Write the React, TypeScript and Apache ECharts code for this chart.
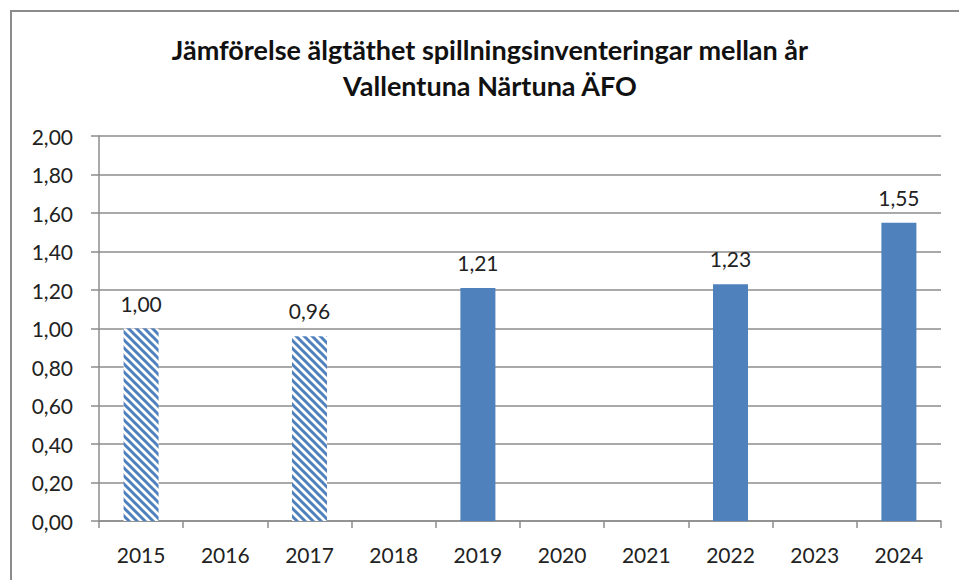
import React, { useEffect, useRef } from "react";
import * as echarts from "echarts";

const years = ["2015", "2016", "2017", "2018", "2019", "2020", "2021", "2022", "2023", "2024"];
const values: (number | null)[] = [1.0, null, 0.96, null, 1.21, null, null, 1.23, null, 1.55];
const hatched = ["2015", "2017"];
const yTicks = { min: 0, max: 2, interval: 0.2 };
const titleLines = ["Jämförelse älgtäthet spillningsinventeringar mellan år", "Vallentuna Närtuna ÄFO"];

const BLUE = "#4F81BD";
const FONT = "Lato, 'Open Sans', sans-serif";

function makeHatch() {
  const s = 8;
  const c = document.createElement("canvas");
  c.width = s;
  c.height = s;
  const ctx = c.getContext("2d")!;
  ctx.fillStyle = "#ffffff";
  ctx.fillRect(0, 0, s, s);
  ctx.strokeStyle = BLUE;
  ctx.lineWidth = 3;
  for (const off of [-s, 0, s]) {
    ctx.beginPath();
    ctx.moveTo(-1, off - 1);
    ctx.lineTo(s + 1, off + s + 1);
    ctx.stroke();
  }
  return c;
}

export default function App() {
  const ref = useRef<HTMLDivElement>(null);
  useEffect(() => {
    document.body.style.margin = "0";
    const chart = echarts.init(ref.current!, null, { renderer: "svg" });
    const hatch = makeHatch();
    const pattern: any = { image: hatch, repeat: "repeat", imageWidth: 8, imageHeight: 8 };
    const fmt = (v: number) => v.toFixed(2).replace(".", ",");
    chart.setOption({
      animation: false,
      backgroundColor: "#ffffff",
      textStyle: { fontFamily: FONT },
      graphic: [
        {
          type: "rect",
          shape: { x: 11, y: 11, width: 1000, height: 1000 },
          style: { fill: "none", stroke: "#8c8c8c", lineWidth: 2 },
          silent: true,
        },
        {
          type: "text",
          x: 490,
          y: 49,
          style: {
            text: titleLines[0],
            font: `bold 27px ${FONT}`,
            fill: "#111",
            align: "center",
            verticalAlign: "middle",
          },
        },
        {
          type: "text",
          x: 490,
          y: 85,
          style: {
            text: titleLines[1],
            font: `bold 27px ${FONT}`,
            fill: "#111",
            align: "center",
            verticalAlign: "middle",
          },
        },
      ],
      grid: { left: 99, right: 18, top: 136, bottom: 59, containLabel: false },
      xAxis: {
        type: "category",
        data: years,
        boundaryGap: true,
        axisLine: { lineStyle: { color: "#8c8c8c", width: 1.5 } },
        axisTick: { show: true, alignWithLabel: false, length: 7, lineStyle: { color: "#8c8c8c", width: 1.5 } },
        axisLabel: { color: "#222", fontSize: 21, margin: 23, fontFamily: FONT },
      },
      yAxis: {
        type: "value",
        min: yTicks.min,
        max: yTicks.max,
        interval: yTicks.interval,
        axisLine: { show: true, lineStyle: { color: "#8c8c8c", width: 1.5 } },
        axisTick: { show: true, length: 8, lineStyle: { color: "#8c8c8c", width: 1.5 } },
        splitLine: { lineStyle: { color: "#8c8c8c", width: 1.5 } },
        axisLabel: { color: "#222", fontSize: 21, margin: 26, fontFamily: FONT, formatter: fmt },
      },
      series: [
        {
          type: "bar",
          barWidth: 35,
          data: values.map((v, i) =>
            v == null
              ? null
              : {
                  value: v,
                  itemStyle: { color: hatched.includes(years[i]) ? pattern : BLUE },
                }
          ),
          label: {
            show: true,
            position: "top",
            distance: 15,
            color: "#222",
            fontSize: 21,
            fontFamily: FONT,
            formatter: (p: any) => fmt(p.value),
          },
        },
      ],
    });
    return () => chart.dispose();
  }, []);
  return <div ref={ref} style={{ width: 959, height: 580 }} />;
}
